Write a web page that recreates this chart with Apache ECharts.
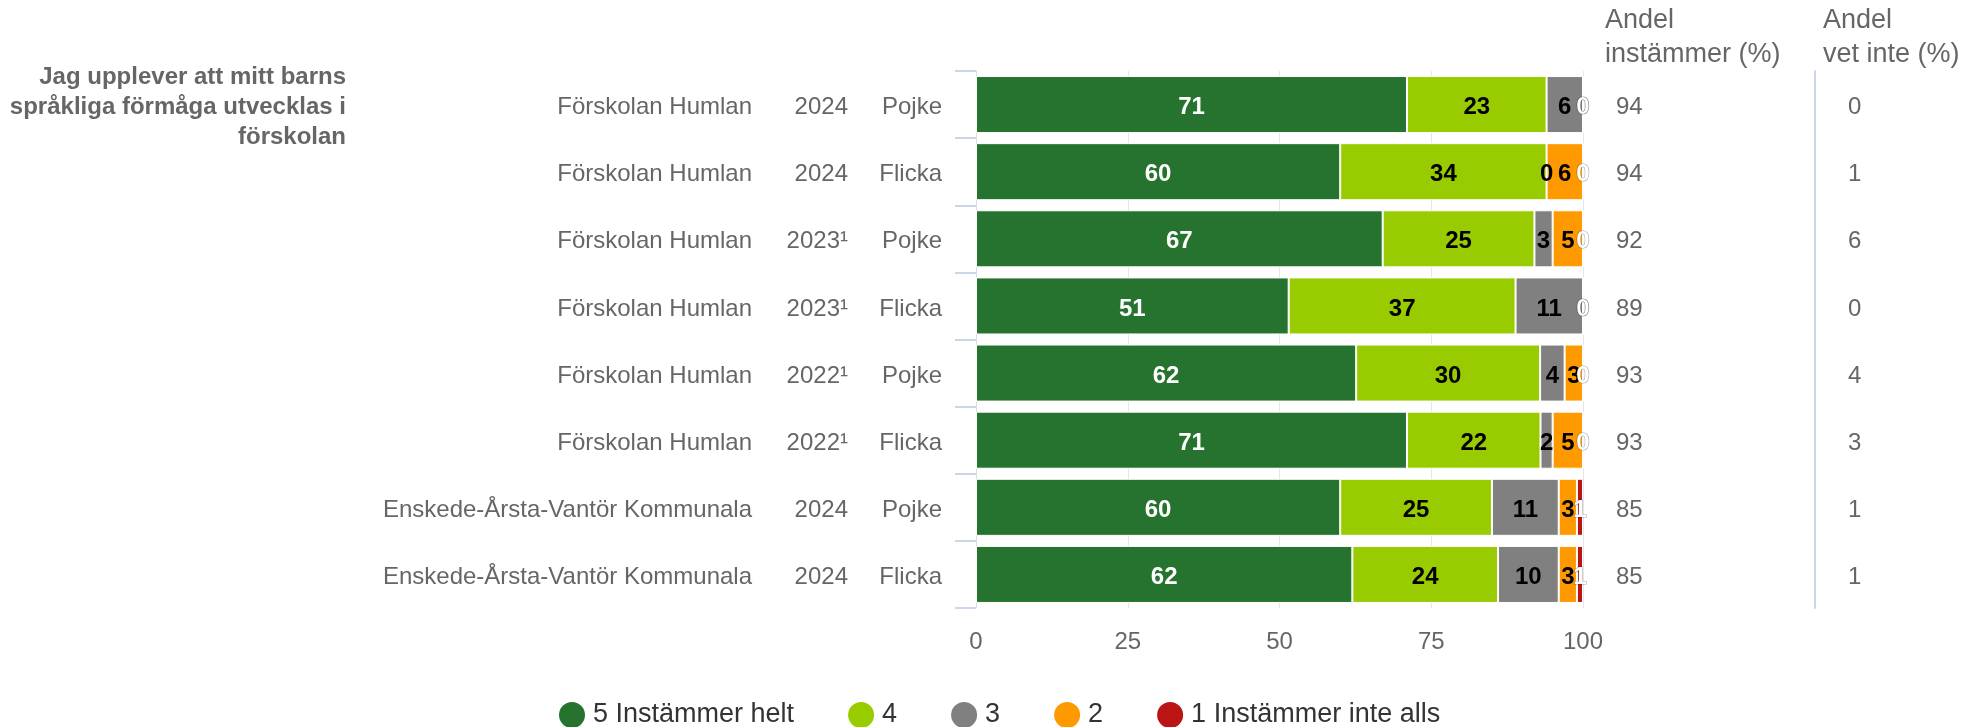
<!DOCTYPE html>
<html>
<head>
<meta charset="utf-8">
<script src="https://cdn.jsdelivr.net/npm/echarts@6/dist/echarts.min.js"></script>
<style>
html,body{margin:0;padding:0;background:#fff;}
#chart{width:1965px;height:727px;}
</style>
</head>
<body>
<div id="chart"></div>
<script>
// ---- data ----
const names = ['Förskolan Humlan','Förskolan Humlan','Förskolan Humlan','Förskolan Humlan','Förskolan Humlan','Förskolan Humlan','Enskede-Årsta-Vantör Kommunala','Enskede-Årsta-Vantör Kommunala'];
const years = ['2024','2024','2023¹','2023¹','2022¹','2022¹','2024','2024'];
const genders = ['Pojke','Flicka','Pojke','Flicka','Pojke','Flicka','Pojke','Flicka'];
const seriesNames = ['5 Instämmer helt','4','3','2','1 Instämmer inte alls'];
const s5 = [71,60,67,51,62,71,60,62];
const s4 = [23,34,25,37,30,22,25,24];
const s3 = [6,0,3,11,4,2,11,10];
const s2 = [0,6,5,0,3,5,3,3];
const s1 = [0,0,0,0,0,0,1,1];
const andelInstammer = [94,94,92,89,93,93,85,85];
const andelVetInte = [0,1,6,0,4,3,1,1];
const xTicks = [0,25,50,75,100];
const titleText = 'Jag upplever att mitt barns\nspråkliga förmåga utvecklas i\nförskolan';
const header1 = 'Andel\ninstämmer (%)';
const header2 = 'Andel\nvet inte (%)';

// ---- styling ----
const FONT = "'Liberation Sans', Arial, sans-serif";
const colors = ['#267330','#99cc00','#808080','#ff9900','#bb1414'];
const labelColors = ['#ffffff','#000000','#000000','#000000','#ffffff'];
const raw = [s5,s4,s3,s2,s1];
const totals = names.map((_, i) => raw.reduce((a, s) => a + s[i], 0));
const idx = names.map((_, i) => String(i));
const valueRich = { v: { color: '#666666', fontFamily: FONT, fontSize: 24, padding: [6, 0, 0, 0] } };

const series = raw.map((arr, k) => ({
  name: seriesNames[k],
  type: 'bar',
  stack: 'total',
  barCategoryGap: '15%',
  itemStyle: { color: colors[k], borderColor: '#ffffff', borderWidth: 1 },
  label: {
    show: true,
    position: 'inside',
    offset: [0, 3],
    color: labelColors[k],
    fontFamily: FONT,
    fontSize: 24,
    fontWeight: 'bold',
    textBorderColor: k === 4 ? 'rgba(0,0,0,0.35)' : 'transparent',
    textBorderWidth: k === 4 ? 1.2 : 0,
    formatter: p => String(arr[p.dataIndex])
  },
  emphasis: { disabled: true },
  // percent stacking (as the original chart): each bar length relative to its row total
  data: arr.map((v, i) => v / totals[i] * 100)
}));

const chart = echarts.init(document.getElementById('chart'), null, { renderer: 'canvas' });
chart.setOption({
  animation: false,
  backgroundColor: '#ffffff',
  color: colors,
  textStyle: { fontFamily: FONT },
  grid: { left: 976, right: 382, top: 71, bottom: 119 },
  legend: {
    left: 552,
    top: 695,
    icon: 'circle',
    itemWidth: 32,
    itemHeight: 28,
    itemGap: 52,
    textStyle: { fontFamily: FONT, fontSize: 27, color: '#333333' },
    data: seriesNames
  },
  xAxis: {
    type: 'value',
    min: 0, max: 100, interval: 25,
    axisLine: { show: false },
    axisTick: { show: false },
    splitLine: { show: true, lineStyle: { color: '#e6e6e6', width: 1 } },
    axisLabel: {
      margin: 22, color: '#666666', fontFamily: FONT, fontSize: 24,
      formatter: v => xTicks.includes(v) ? String(v) : ''
    }
  },
  yAxis: [
    {
      type: 'category',
      inverse: true,
      data: idx,
      axisLine: { show: true, lineStyle: { color: '#dddddd', width: 1 } },
      axisTick: { show: true, length: 21, lineStyle: { color: '#ccd6eb', width: 2 } },
      splitLine: { show: false },
      axisLabel: {
        margin: 34,
        align: 'right',
        formatter: (v, i) => `{a|${names[i]}}{b|${years[i]}}{c|${genders[i]}}`,
        rich: {
          a: { width: 400, align: 'right', color: '#666666', fontFamily: FONT, fontSize: 24, padding: [6, 0, 0, 0] },
          b: { width: 96, align: 'right', color: '#666666', fontFamily: FONT, fontSize: 24, padding: [6, 0, 0, 0] },
          c: { width: 94, align: 'right', color: '#666666', fontFamily: FONT, fontSize: 24, padding: [6, 0, 0, 0] }
        }
      }
    },
    {
      type: 'category',
      inverse: true,
      position: 'right',
      offset: 0,
      data: andelInstammer.map(String),
      axisLine: { show: false },
      axisTick: { show: false },
      splitLine: { show: false },
      axisLabel: { margin: 33, align: 'left', formatter: v => `{v|${v}}`, rich: valueRich }
    },
    {
      type: 'category',
      inverse: true,
      position: 'right',
      offset: 232,
      data: andelVetInte.map(String),
      axisLine: { show: true, lineStyle: { color: '#ccd6eb', width: 2 } },
      axisTick: { show: false },
      splitLine: { show: false },
      axisLabel: { margin: 33, align: 'left', formatter: v => `{v|${v}}`, rich: valueRich }
    }
  ],
  graphic: [
    {
      type: 'text', x: 346, y: 62,
      style: { text: titleText, align: 'right', verticalAlign: 'top', fill: '#666666',
               fontFamily: FONT, fontSize: 24, fontWeight: 'bold', lineHeight: 30 }
    },
    {
      type: 'text', x: 1605, y: 4,
      style: { text: header1, align: 'left', verticalAlign: 'top', fill: '#666666',
               fontFamily: FONT, fontSize: 27, lineHeight: 34 }
    },
    {
      type: 'text', x: 1823, y: 4,
      style: { text: header2, align: 'left', verticalAlign: 'top', fill: '#666666',
               fontFamily: FONT, fontSize: 27, lineHeight: 34 }
    }
  ],
  series: series
});
</script>
</body>
</html>
